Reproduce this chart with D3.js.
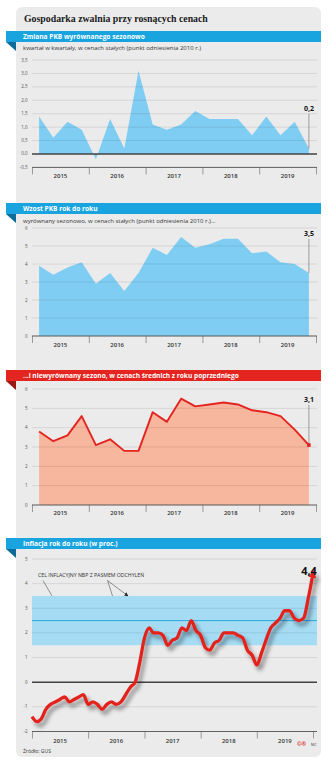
<!DOCTYPE html>
<html>
<head>
<meta charset="utf-8">
<script src="https://cdn.jsdelivr.net/npm/d3@7"></script>
<style>
  body { margin: 0; background: #fff; }
  svg { display: block; }
  text { font-family: "Open Sans", sans-serif; }
</style>
</head>
<body>
<svg id="chart"></svg>
<script>
// lata na osi X
const years = ["2015", "2016", "2017", "2018", "2019"];

// PKB kw/kw, wyrównany sezonowo (proc.)
const pkbKwartalnie = [1.4, 0.6, 1.2, 0.9, -0.2, 1.3, 0.2, 3.1, 1.1, 0.9, 1.1, 1.6, 1.3, 1.3, 1.3, 0.7, 1.4, 0.7, 1.2, 0.2];
// PKB r/r, wyrównany sezonowo
const pkbRokDoRoku = [3.9, 3.4, 3.8, 4.1, 2.9, 3.5, 2.5, 3.5, 4.9, 4.5, 5.5, 4.9, 5.1, 5.4, 5.4, 4.6, 4.7, 4.1, 4.0, 3.5];
// PKB r/r, niewyrównany
const pkbNiewyrownany = [3.8, 3.3, 3.6, 4.6, 3.1, 3.4, 2.8, 2.8, 4.8, 4.3, 5.5, 5.1, 5.2, 5.3, 5.2, 4.9, 4.8, 4.6, 3.9, 3.1];

// inflacja CPI r/r, miesięcznie od stycznia 2015
const inflacja = [
  -1.4, -1.6, -1.5, -1.1, -0.9, -0.8, -0.7, -0.6, -0.8, -0.7, -0.6, -0.5,
  -0.9, -0.8, -0.9, -1.1, -0.9, -0.8, -0.9, -0.8, -0.5, -0.2, 0.0, 0.8,
  1.8, 2.2, 2.0, 2.0, 1.9, 1.5, 1.7, 1.8, 2.2, 2.1, 2.5, 2.1,
  1.9, 1.4, 1.3, 1.6, 1.7, 2.0, 2.0, 2.0, 1.9, 1.8, 1.3, 1.1,
  0.7, 1.2, 1.7, 2.2, 2.4, 2.6, 2.9, 2.9, 2.6, 2.5, 2.6, 3.4,
  4.4
];
const inflacjaStart = new Date(2015, 0, 1);
const celInflacyjny = 2.5;
const pasmoOdchylen = 1.0;

const W = 331, H = 760;
const blue = "#19a4df", blueDark = "#0d6c99";
const red = "#e3241f", redDark = "#9c1714";

const pl = d3.formatLocale({ decimal: ",", thousands: " ", grouping: [3], currency: ["", " zł"], minus: "-" });
const f1 = pl.format(".1f");

const svg = d3.select("#chart").attr("width", W).attr("height", H);

const defs = svg.append("defs");
defs.append("filter").attr("id", "cien")
    .attr("x", "-10%").attr("y", "-10%").attr("width", "130%").attr("height", "130%")
  .append("feDropShadow")
    .attr("dx", 3).attr("dy", 4).attr("stdDeviation", 2.2)
    .attr("flood-color", "#000").attr("flood-opacity", 0.45);
defs.append("marker").attr("id", "grot")
    .attr("viewBox", "0 0 10 10").attr("refX", 5).attr("refY", 5)
    .attr("markerWidth", 8).attr("markerHeight", 8)
    .attr("markerUnits", "userSpaceOnUse").attr("orient", "auto")
  .append("path").attr("d", "M0,0L10,5L0,10z").attr("fill", red);
defs.append("marker").attr("id", "grotMaly")
    .attr("viewBox", "0 0 10 10").attr("refX", 9).attr("refY", 5)
    .attr("markerWidth", 4).attr("markerHeight", 4)
    .attr("markerUnits", "userSpaceOnUse").attr("orient", "auto")
  .append("path").attr("d", "M0,0L10,5L0,10z").attr("fill", "#222");

// tło
svg.append("rect").attr("x", 16).attr("y", 7).attr("width", 305).attr("height", 750)
    .attr("rx", 6).attr("fill", "#ebebeb");

svg.append("text").attr("x", 24).attr("y", 22)
    .style("font-family", "'Liberation Serif', serif").style("font-weight", "bold")
    .style("font-size", "9.8px").attr("fill", "#1a1a1a")
    .text("Gospodarka zwalnia przy rosnących cenach");

function naglowek(y, tekst, kolor, ciemny) {
  svg.append("polygon")
      .attr("points", `6,${y + 11} 16,${y + 11} 16,${y + 20}`)
      .attr("fill", ciemny);
  svg.append("rect").attr("x", 6).attr("y", y).attr("width", 315).attr("height", 11).attr("fill", kolor);
  svg.append("text").attr("x", 23).attr("y", y + 8.2)
      .attr("fill", "#fff").style("font-weight", "bold").style("font-size", "6.6px")
      .text(tekst);
}

function podtytul(y, tekst) {
  svg.append("text").attr("x", 23).attr("y", y)
      .attr("fill", "#333").style("font-size", "6px").text(tekst);
}

// siatka i opisy osi Y
function siatka(y, ticks, fmt) {
  const g = svg.append("g");
  g.selectAll("line").data(ticks).join("line")
      .attr("x1", 32).attr("x2", 317)
      .attr("y1", d => y(d)).attr("y2", d => y(d))
      .attr("stroke", "rgba(0,0,0,0.13)").attr("stroke-width", 0.7);
  g.selectAll("text").data(ticks).join("text")
      .attr("x", 27.5).attr("y", d => y(d) + 1.5)
      .attr("text-anchor", "end").attr("fill", "#555").style("font-size", "4.5px")
      .text(fmt);
}

// oś X z latami i podziałką
function osX(x, yPos, duze, male) {
  const g = svg.append("g").attr("transform", `translate(0,${yPos})`);
  g.call(d3.axisBottom(x).tickValues(male).tickSize(2.5).tickSizeOuter(0).tickFormat(""))
    .call(a => a.select(".domain").remove());
  g.call(d3.axisBottom(x).tickValues(duze).tickSize(7).tickSizeOuter(0).tickFormat(""))
    .call(a => a.select(".domain").remove());
  g.selectAll(".tick line").attr("stroke", "#777").attr("stroke-width", 0.7);
  g.append("line").attr("x1", 32).attr("x2", 317).attr("stroke", "#555").attr("stroke-width", 0.9);
}

function latka(x, yPos, srodki) {
  svg.append("g").selectAll("text").data(years).join("text")
      .attr("x", (d, i) => srodki(i)).attr("y", yPos)
      .attr("text-anchor", "middle").attr("fill", "#333")
      .style("font-size", "6px").style("font-weight", 600)
      .text(d => d);
}

function etykieta(x, yTxt, yPunkt, tekst, rozmiar) {
  svg.append("line").attr("x1", x).attr("x2", x).attr("y1", yTxt + 3).attr("y2", yPunkt)
      .attr("stroke", "#666").attr("stroke-width", 0.6);
  svg.append("text").attr("x", x).attr("y", yTxt)
      .attr("text-anchor", "middle").attr("fill", "#111")
      .style("font-weight", "bold").style("font-size", rozmiar + "px")
      .text(tekst);
}

const xq = d3.scaleLinear().domain([0, 20]).range([32, 316]);
const qx = (d, i) => xq(i + 0.5);
const granice = d3.range(0, 21, 4);
const kwartaly = d3.range(0, 21).filter(d => d % 4);

// 1. PKB kw/kw
naglowek(31, "Zmiana PKB wyrównanego sezonowo", blue, blueDark);
podtytul(49.5, "kwartał w kwartały, w cenach stałych (punkt odniesienia 2010 r.)");
{
  const y = d3.scaleLinear().domain([-0.5, 3.5]).range([167.4, 60]);
  svg.append("path").datum(pkbKwartalnie)
      .attr("d", d3.area().x(qx).y0(y(0)).y1(d => y(d)))
      .attr("fill", "#7fcdf2");
  siatka(y, d3.range(-0.5, 3.6, 0.5), f1);
  svg.append("line").attr("x1", 32).attr("x2", 317).attr("y1", y(0)).attr("y2", y(0))
      .attr("stroke", "#444").attr("stroke-width", 1.4);
  osX(xq, y(-0.5), granice, kwartaly);
  latka(xq, 178, i => xq(i * 4 + 2));
  const last = pkbKwartalnie.length - 1;
  etykieta(qx(0, last), 111, y(pkbKwartalnie[last]), f1(pkbKwartalnie[last]), 7);
}

// 2. PKB r/r wyrównany
naglowek(203, "Wzost PKB rok do roku", blue, blueDark);
podtytul(222.5, "wyrównany sezonowo, w cenach stałych (punkt odniesienia 2010 r.)...");
{
  const y = d3.scaleLinear().domain([0, 6]).range([336, 228]);
  svg.append("path").datum(pkbRokDoRoku)
      .attr("d", d3.area().x(qx).y0(y(0)).y1(d => y(d)))
      .attr("fill", "#7fcdf2");
  siatka(y, d3.range(0, 7), d => d);
  osX(xq, y(0), granice, kwartaly);
  latka(xq, 346.5, i => xq(i * 4 + 2));
  const last = pkbRokDoRoku.length - 1;
  etykieta(qx(0, last), 236, y(pkbRokDoRoku[last]), f1(pkbRokDoRoku[last]), 7);
}

// 3. PKB r/r niewyrównany
naglowek(370, "...i niewyrównany sezono, w cenach średnich z roku poprzedniego", red, redDark);
{
  const y = d3.scaleLinear().domain([0, 6]).range([505, 389]);
  svg.append("path").datum(pkbNiewyrownany)
      .attr("d", d3.area().x(qx).y0(y(0)).y1(d => y(d)))
      .attr("fill", "#f7b69e");
  siatka(y, d3.range(0, 7), d => d);
  svg.append("path").datum(pkbNiewyrownany)
      .attr("d", d3.line().x(qx).y(d => y(d)))
      .attr("fill", "none").attr("stroke", red).attr("stroke-width", 1.9)
      .attr("stroke-linejoin", "round");
  osX(xq, y(0), granice, kwartaly);
  latka(xq, 514.5, i => xq(i * 4 + 2));
  const last = pkbNiewyrownany.length - 1;
  etykieta(qx(0, last), 402, y(pkbNiewyrownany[last]), f1(pkbNiewyrownany[last]), 7);
  svg.append("rect").attr("x", qx(0, last) - 1.8).attr("y", y(pkbNiewyrownany[last]) - 1.8)
      .attr("width", 3.6).attr("height", 3.6).attr("fill", red);
}

// 4. inflacja
naglowek(538, "Inflacja rok do roku (w proc.)", blue, blueDark);
{
  const x = d3.scaleTime().domain([inflacjaStart, new Date(2020, 0, 1)]).range([32, 313]);
  const y = d3.scaleLinear().domain([-2, 5]).range([731.5, 559]);
  svg.append("rect").attr("x", 32).attr("width", 285)
      .attr("y", y(celInflacyjny + pasmoOdchylen))
      .attr("height", y(celInflacyjny - pasmoOdchylen) - y(celInflacyjny + pasmoOdchylen))
      .attr("fill", "#a5dcf4");
  siatka(y, d3.range(-2, 6), d => d);
  svg.append("line").attr("x1", 32).attr("x2", 317)
      .attr("y1", y(celInflacyjny)).attr("y2", y(celInflacyjny))
      .attr("stroke", "#2ba7df").attr("stroke-width", 1);
  svg.append("line").attr("x1", 32).attr("x2", 317).attr("y1", y(0)).attr("y2", y(0))
      .attr("stroke", "#444").attr("stroke-width", 1.4);

  // opis pasma
  svg.append("text").attr("x", 38).attr("y", 577)
      .attr("fill", "#333").style("font-size", "5.2px")
      .text("CEL INFLACYJNY NBP Z PASMEM ODCHYLEŃ");
  const gorna = y(celInflacyjny + pasmoOdchylen);
  svg.append("line").attr("x1", 43).attr("y1", 580.5).attr("x2", 52).attr("y2", gorna)
      .attr("stroke", "#333").attr("stroke-width", 0.5);
  svg.append("line").attr("x1", 107.5).attr("y1", 580.5).attr("x2", 112.5).attr("y2", gorna)
      .attr("stroke", "#333").attr("stroke-width", 0.5);
  svg.append("line").attr("x1", 107.5).attr("y1", 580.5).attr("x2", 128).attr("y2", gorna)
      .attr("stroke", "#333").attr("stroke-width", 0.5).attr("marker-end", "url(#grotMaly)");

  const mies = i => d3.timeMonth.offset(inflacjaStart, i);
  svg.append("path").datum(inflacja)
      .attr("d", d3.line().x((d, i) => x(mies(i))).y(d => y(d)).curve(d3.curveMonotoneX))
      .attr("fill", "none").attr("stroke", red).attr("stroke-width", 3.3)
      .attr("stroke-linejoin", "round")
      .attr("filter", "url(#cien)")
      .attr("marker-end", "url(#grot)");

  const lata = d3.timeYear.range(inflacjaStart, new Date(2020, 0, 2));
  const miesiace = d3.timeMonth.range(inflacjaStart, new Date(2020, 0, 2)).filter(d => d.getMonth() !== 0);
  osX(x, y(-2), lata, miesiace);
  latka(x, 742.5, i => (x(lata[i]) + x(lata[i + 1])) / 2);

  svg.append("text").attr("x", 309).attr("y", 575)
      .attr("text-anchor", "middle").attr("fill", "#111")
      .style("font-weight", "bold").style("font-size", "11px")
      .text(f1(inflacja[inflacja.length - 1]));
}

// stopka
svg.append("text").attr("x", 23).attr("y", 752.5)
    .attr("fill", "#333").style("font-size", "5px").text("Źródło: GUS");
svg.append("text").attr("x", 297).attr("y", 746)
    .attr("fill", red).style("font-size", "5.5px").style("font-weight", "bold").text("©®");
svg.append("text").attr("x", 311).attr("y", 746)
    .attr("fill", "#333").style("font-size", "3.5px").text("MC");
</script>
</body>
</html>
